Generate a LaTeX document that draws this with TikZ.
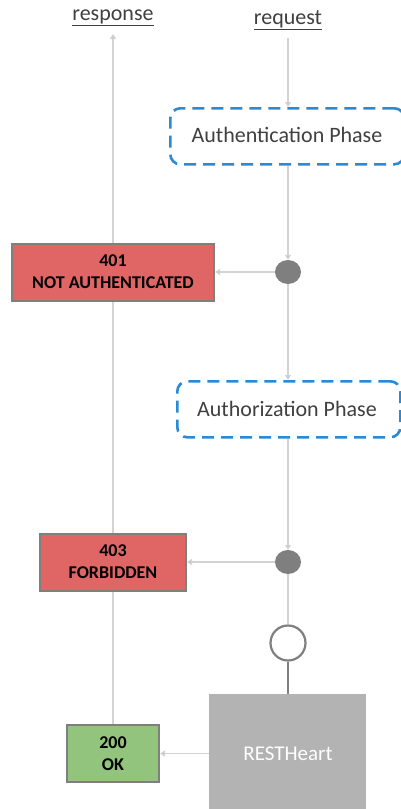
\documentclass[tikz,border=0pt]{standalone}
\usepackage{fontspec}
\setmainfont{Carlito}
\usetikzlibrary{arrows.meta,backgrounds,shapes.geometric}
\definecolor{dashblue}{HTML}{2B8AD6}
\definecolor{boxred}{HTML}{E06666}
\definecolor{boxgreen}{HTML}{93C47D}
\definecolor{boxgray}{HTML}{B3B3B3}
\definecolor{edgegray}{HTML}{7F7F7F}
\definecolor{flowgray}{HTML}{D3D3D3}
\definecolor{labelgray}{HTML}{404040}
\tikzset{
  phase/.style={draw=dashblue, line width=2.6pt, dash pattern=on 12pt off 7pt, rounded corners=10pt, fill=white, inner sep=0pt},
  phaselbl/.style={text=labelgray, font=\fontsize{22}{26}\selectfont},
  resbox/.style={draw=edgegray, line width=2pt, inner sep=0pt, align=center, font=\fontsize{18}{22}\selectfont\bfseries, text=black},
  flow/.style={draw=flowgray, line width=1.6pt, -{Triangle[length=5pt,width=6pt,fill=edgegray!60]}},
  plainflow/.style={draw=flowgray, line width=1.6pt},
  dotnode/.style={ellipse, fill=edgegray, minimum width=26pt, minimum height=24pt, inner sep=0pt},
  hdr/.style={text=labelgray, font=\fontsize{22}{24}\selectfont},
}
\begin{document}
\begin{tikzpicture}[x=1pt,y=-1pt]
\useasboundingbox (0,0) rectangle (401,809);
% headers
\node[hdr] (resp) at (113,18) {\underline{response}};
\node[hdr] (req) at (288,20) {\underline{request}};
\coordinate (resptop) at (113,34);
\coordinate (reqtop) at (288,38);
% phases
\node[phase, minimum width=234pt, minimum height=56pt, anchor=north west] (auth) at (169,107) {};
\node[phaselbl] (authlbl) at (287,135) {Authentication Phase};
\node[phase, minimum width=223pt, minimum height=56pt, anchor=north west] (authz) at (176,380) {};
\node[phaselbl] (authzlbl) at (287,409) {Authorization Phase};
% decision dots
\node[dotnode] (d1) at (288,272) {};
\node[dotnode] (d2) at (288,562) {};
% open circle
\node[circle, draw=edgegray, line width=2.2pt, fill=white, minimum size=35pt, inner sep=0pt] (c) at (288,643) {};
% RESTHeart
\node[fill=boxgray, minimum width=157pt, minimum height=120pt, anchor=north west, inner sep=0pt] (rh) at (209,694) {};
\node[text=white, font=\fontsize{21}{24}\selectfont] (rhlbl) at (288,754) {RESTHeart};
% result boxes
\node[resbox, fill=boxred, minimum width=202pt, minimum height=57pt] (r401) at (113,272) {401\\NOT AUTHENTICATED};
\node[resbox, fill=boxred, minimum width=146pt, minimum height=57pt] (r403) at (113,562) {403\\FORBIDDEN};
\node[resbox, fill=boxgreen, minimum width=92pt, minimum height=57pt] (r200) at (113,753.5) {200\\OK};
% connectors
\begin{scope}[on background layer]
\fill[white] (0,0) rectangle (401,809);
\draw[flow] (r200.north) -- (resptop);
\draw[flow] (reqtop) -- (auth.north -| reqtop);
\draw[flow] (auth.south -| d1) -- (d1.north);
\draw[flow] (d1.south) -- (authz.north -| d1);
\draw[flow] (authz.south -| d2) -- (d2.north);
\draw[plainflow] (d2.south) -- (c.north);
\end{scope}
\draw[flow] (d1.west) -- (r401.east);
\draw[flow] (d2.west) -- (r403.east);
\draw[flow] (rh.west |- r200.east) -- (r200.east);
\draw[draw=edgegray, line width=2pt] (c.south) -- (rh.north -| c);
\end{tikzpicture}
\end{document}
